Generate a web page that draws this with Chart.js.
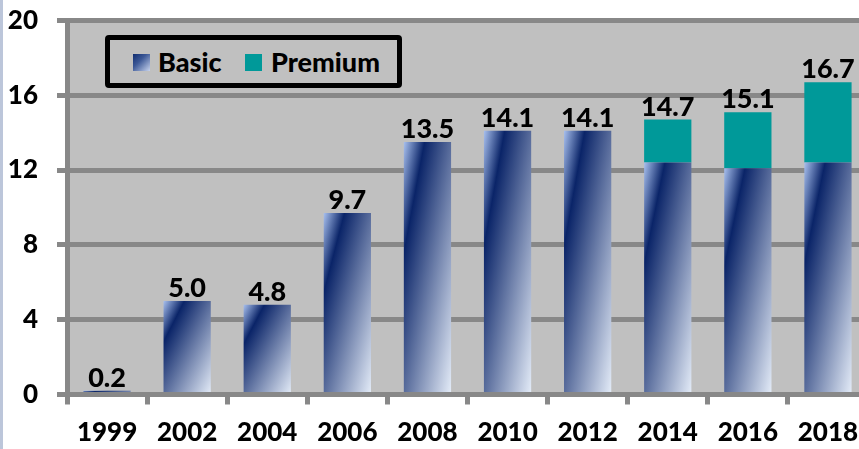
<!DOCTYPE html>
<html>
<head>
<meta charset="utf-8">
<script src="https://cdn.jsdelivr.net/npm/chart.js@4.4.1/dist/chart.umd.min.js"></script>
<style>
  html, body { margin: 0; padding: 0; background: #ffffff; overflow: hidden; width: 859px; height: 449px; }
  #wrap { position: relative; width: 868px; height: 449px; }
  #strip { position: absolute; left: 0; top: 0; width: 3px; height: 449px; background: #bcc6da; }
  #legend { position: absolute; left: 105px; top: 35px; width: 297px; height: 53px; box-sizing: border-box;
            border: 5px solid #000; border-radius: 4px; background: #c0c0c0; font-family: Lato, "DejaVu Sans", sans-serif;
            font-weight: 900; font-size: 27px; color: #000; }
  .sw { position: absolute; width: 17px; height: 17px; top: 14px; }
  .lt { position: absolute; top: 7px; line-height: 30px; white-space: nowrap; }
</style>
</head>
<body>
<div id="wrap">
  <canvas id="c" width="868" height="449"></canvas>
  <div id="strip"></div>
  <div id="legend">
    <div class="sw" style="left:23px;background:linear-gradient(135deg,#102c70 0%,#3c5896 40%,#c8d4ee 100%);"></div>
    <span class="lt" id="l0" style="left:48px;"></span>
    <div class="sw" style="left:135px;background:#009999;"></div>
    <span class="lt" id="l1" style="left:161px;"></span>
  </div>
</div>
<script>
const categories = ['1999', '2002', '2004', '2006', '2008', '2010', '2012', '2014', '2016', '2018'];
const seriesNames = ['Basic', 'Premium'];
const basicValues = [0.2, 5.0, 4.8, 9.7, 13.5, 14.1, 14.1, 12.4, 12.1, 12.4];
const premiumValues = [null, null, null, null, null, null, null, 2.3, 3.0, 4.3];
const totalLabels = ['0.2', '5.0', '4.8', '9.7', '13.5', '14.1', '14.1', '14.7', '15.1', '16.7'];
const yTicks = [0, 4, 8, 12, 16, 20];

document.getElementById('l0').textContent = seriesNames[0];
document.getElementById('l1').textContent = seriesNames[1];

const FONT = { family: 'Lato, "DejaVu Sans", sans-serif', weight: '900', size: 26 };
const BAR_PCT = 0.59;
const GRID = '#888888';

function basicGradient(ctx) {
  const chart = ctx.chart;
  if (!chart.chartArea || ctx.type !== 'data') return '#1f3a7a';
  const xs = chart.scales.x, ys = chart.scales.y;
  const i = ctx.dataIndex;
  const cx = xs.getPixelForValue(i);
  const w = (xs.width / categories.length) * BAR_PCT;
  const L = cx - w / 2;
  const T = ys.getPixelForValue(ctx.raw);
  const B = ys.getPixelForValue(0);
  const H = Math.max(B - T, 1);
  const t = 1 / (1 / (w * w) + 1 / (H * H));
  const g = chart.ctx.createLinearGradient(L, T, L + 2 * t / w, T + 2 * t / H);
  g.addColorStop(0, '#a8c0ee');
  g.addColorStop(0.22, '#0a2468');
  g.addColorStop(1, '#e4ecf8');
  return g;
}

const plotBg = {
  id: 'plotBg',
  beforeDraw(chart) {
    const { ctx, chartArea: a } = chart;
    ctx.save();
    ctx.fillStyle = '#c0c0c0';
    ctx.fillRect(a.left, a.top - 2, a.right - a.left, a.bottom - a.top + 2);
    ctx.restore();
  }
};

const totals = {
  id: 'totals',
  afterDatasetsDraw(chart) {
    const ctx = chart.ctx;
    const m0 = chart.getDatasetMeta(0), m1 = chart.getDatasetMeta(1);
    ctx.save();
    ctx.font = `900 27px ${FONT.family}`;
    ctx.fillStyle = '#000';
    ctx.textAlign = 'center';
    ctx.textBaseline = 'alphabetic';
    categories.forEach((c, i) => {
      const el = (premiumValues[i] != null) ? m1.data[i] : m0.data[i];
      ctx.fillText(totalLabels[i], el.x, el.y - 4);
    });
    ctx.restore();
  }
};

new Chart(document.getElementById('c'), {
  type: 'bar',
  data: {
    labels: categories,
    datasets: [
      { label: seriesNames[0], data: basicValues, backgroundColor: basicGradient, borderWidth: 0 },
      { label: seriesNames[1], data: premiumValues, backgroundColor: '#009999', borderWidth: 0 }
    ]
  },
  options: {
    responsive: false,
    animation: false,
    devicePixelRatio: 1,
    layout: { padding: { top: 20.5, left: 0, right: 0, bottom: 0 } },
    datasets: { bar: { barPercentage: BAR_PCT, categoryPercentage: 1.0 } },
    plugins: { legend: { display: false }, tooltip: { enabled: false } },
    scales: {
      x: {
        stacked: true,
        z: 1,
        afterFit(s) { s.height = 54.5; s.paddingLeft = 0; s.paddingRight = 0; },
        grid: { offset: true, drawOnChartArea: false, drawTicks: true, tickLength: 10, color: GRID, lineWidth: 5 },
        border: { display: true, color: GRID, width: 5 },
        ticks: { color: '#000', font: FONT, padding: 13, maxRotation: 0, autoSkip: false }
      },
      y: {
        stacked: true,
        min: 0, max: 20,
        afterFit(s) { s.width = 67; s.paddingTop = 0; s.paddingBottom = 0; },
        afterBuildTicks(s) { s.ticks = yTicks.map(v => ({ value: v })); },
        grid: { color: GRID, lineWidth: 5, tickLength: 10, tickColor: GRID },
        border: { display: true, color: GRID, width: 5 },
        ticks: { color: '#000', font: FONT, padding: 19 }
      }
    }
  },
  plugins: [plotBg, totals]
});
</script>
</body>
</html>
